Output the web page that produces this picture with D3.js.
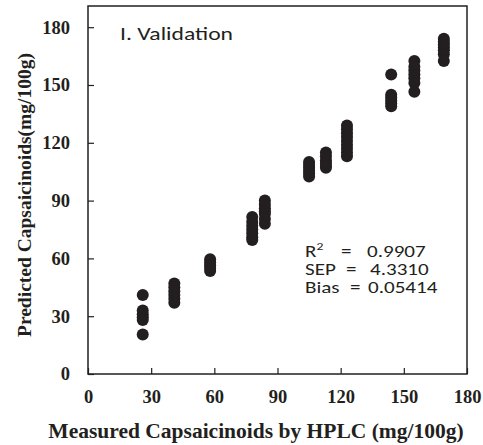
<!DOCTYPE html>
<html>
<head>
<meta charset="utf-8">
<script src="https://cdn.jsdelivr.net/npm/d3@7"></script>
<style>
  body { margin: 0; background: #fff; }
  svg { display: block; }
</style>
</head>
<body>
<svg id="chart" width="483" height="445"></svg>
<script>
const measured = [26, 41, 58, 78, 84, 105, 113, 123, 144, 155, 169]
const predicted = [
  [41, 33, 31, 29.5, 28, 20.5],
  [47, 45, 43, 41, 39, 37],
  [59.5, 58, 56.5, 55, 53.5],
  [81.5, 79, 77, 75, 73, 71, 69.5],
  [90, 88, 86, 84.5, 83, 80.5, 78],
  [110, 108.5, 107, 105.5, 104, 102.5],
  [115, 113, 111, 109.5, 108, 107],
  [129, 127, 125, 123, 121, 119, 117, 115, 113],
  [155.5, 145, 143.5, 142, 140.5, 139],
  [162.5, 159.5, 157.5, 155.5, 153.5, 151, 146.5],
  [174, 172.5, 171, 169.5, 168, 166, 162.5]
]
const tickVals = [0, 30, 60, 90, 120, 150, 180]
const stats = [
  { name: 'R', sup: '2', value: '0.9907' },
  { name: 'SEP', sup: '', value: '4.3310' },
  { name: 'Bias', sup: '', value: '0.05414' }
]

const width = 483, height = 445
const margin = { top: 6, right: 16, bottom: 71, left: 88 }

const svg = d3.select('#chart')

const x = d3.scaleLinear()
  .domain([0, 180])
  .range([margin.left, width - margin.right])

const y = d3.scaleLinear()
  .domain([0, 191])
  .range([height - margin.bottom, margin.top])

const points = []
measured.forEach((m, i) => {
  predicted[i].forEach(p => points.push({ m: m, p: p }))
})

// frame
svg.append('rect')
  .attr('x', margin.left)
  .attr('y', margin.top)
  .attr('width', width - margin.left - margin.right)
  .attr('height', height - margin.top - margin.bottom)
  .attr('fill', 'none')
  .attr('stroke', '#231f20')
  .attr('stroke-width', 1.5)

const serif = '"Liberation Serif", "Times New Roman", serif'
const sans = 'Carlito, "Open Sans", "Liberation Sans", sans-serif'

const xAxis = svg.append('g')
  .attr('transform', `translate(0,${height - margin.bottom})`)
  .call(d3.axisBottom(x).tickValues(tickVals).tickSizeInner(-6).tickSizeOuter(0).tickPadding(16))

const yAxis = svg.append('g')
  .attr('transform', `translate(${margin.left},0)`)
  .call(d3.axisLeft(y).tickValues(tickVals).tickSizeInner(-6).tickSizeOuter(0).tickPadding(18))

;[xAxis, yAxis].forEach(a => {
  a.select('.domain').remove()
  a.selectAll('line').attr('stroke', '#231f20').attr('stroke-width', 1.2)
  a.selectAll('text')
    .attr('fill', '#231f20')
    .style('font-family', serif)
    .style('font-weight', 'bold')
    .style('font-size', '18.5px')
})

// dots
svg.append('g').selectAll('circle')
  .data(points)
  .enter()
  .append('circle')
  .attr('cx', d => x(d.m))
  .attr('cy', d => y(d.p))
  .attr('r', 6)
  .attr('fill', '#231f20')

// axis titles
svg.append('text')
  .attr('x', 256)
  .attr('y', 438)
  .attr('text-anchor', 'middle')
  .style('font-family', serif)
  .style('font-weight', 'bold')
  .style('font-size', '21.5px')
  .attr('fill', '#231f20')
  .text('Measured Capsaicinoids by HPLC (mg/100g)')

svg.append('text')
  .attr('transform', 'translate(31,195) rotate(-90)')
  .attr('text-anchor', 'middle')
  .style('font-family', serif)
  .style('font-weight', 'bold')
  .style('font-size', '19.5px')
  .attr('fill', '#231f20')
  .text('Predicted Capsaicinoids(mg/100g)')

// panel label
svg.append('text')
  .attr('x', 120)
  .attr('y', 40)
  .attr('textLength', 113)
  .attr('lengthAdjust', 'spacingAndGlyphs')
  .style('font-family', sans)
  .style('font-size', '19px')
  .attr('fill', '#231f20')
  .text('I. Validation')

// statistics (the original lettering is a little wider than Carlito)
const sx = 1.24
const statG = svg.append('g')
  .attr('transform', `translate(305,0) scale(${sx},1)`)
  .style('font-family', sans)
  .style('font-size', '17px')
  .attr('fill', '#231f20')

const eqX = [341, 346, 350]
const valX = [367, 370, 368]
stats.forEach((s, i) => {
  const by = 257 + i * 17.8
  const t = statG.append('text')
    .attr('x', 0)
    .attr('y', by)
  t.append('tspan').text(s.name)
  if (s.sup) {
    t.append('tspan').attr('dy', -7).style('font-size', '11px').text(s.sup)
  }
  t.append('tspan')
    .attr('x', (eqX[i] - 305) / sx)
    .attr('y', by)
    .text('=')
  t.append('tspan')
    .attr('x', (valX[i] - 305) / sx)
    .text(s.value)
})
</script>
</body>
</html>
